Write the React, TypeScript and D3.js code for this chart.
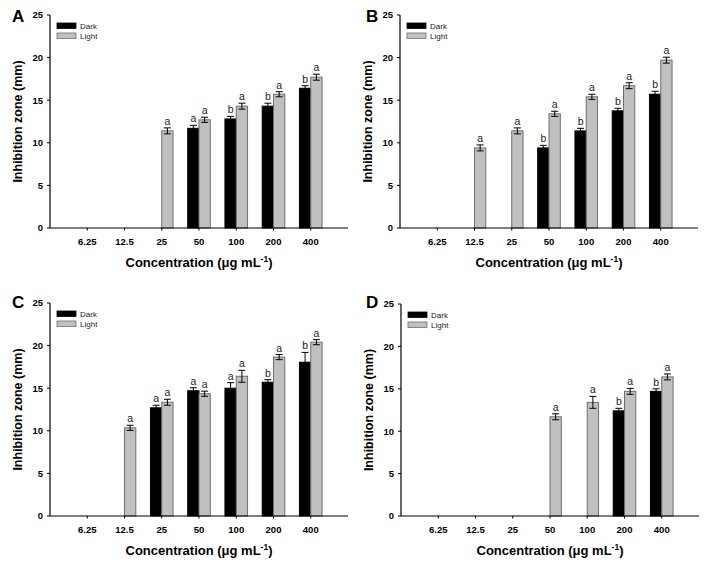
import React from "react";
import * as d3 from "d3";

const categories = ["6.25", "12.5", "25", "50", "100", "200", "400"];
const yTicks = [0, 5, 10, 15, 20, 25];

// Panel A
const aDark = [null, null, null, 11.7, 12.8, 14.3, 16.4];
const aDarkErr = [0, 0, 0, 0.35, 0.3, 0.35, 0.3];
const aDarkLbl = ["", "", "", "a", "b", "b", "b"];
const aLight = [null, null, 11.4, 12.7, 14.3, 15.7, 17.7];
const aLightErr = [0, 0, 0.35, 0.3, 0.35, 0.3, 0.35];
const aLightLbl = ["", "", "a", "a", "a", "a", "a"];

// Panel B
const bDark = [null, null, null, 9.4, 11.4, 13.75, 15.7];
const bDarkErr = [0, 0, 0, 0.3, 0.3, 0.3, 0.35];
const bDarkLbl = ["", "", "", "b", "b", "b", "b"];
const bLight = [null, 9.4, 11.4, 13.4, 15.4, 16.7, 19.7];
const bLightErr = [0, 0.35, 0.35, 0.3, 0.3, 0.35, 0.35];
const bLightLbl = ["", "a", "a", "a", "a", "a", "a"];

// Panel C
const cDark = [null, null, 12.7, 14.7, 15.0, 15.7, 18.05];
const cDarkErr = [0, 0, 0.3, 0.35, 0.65, 0.3, 1.15];
const cDarkLbl = ["", "", "a", "a", "a", "b", "b"];
const cLight = [null, 10.35, 13.35, 14.35, 16.4, 18.65, 20.4];
const cLightErr = [0, 0.3, 0.35, 0.3, 0.7, 0.3, 0.3];
const cLightLbl = ["", "a", "a", "a", "a", "a", "a"];

// Panel D
const dDark = [null, null, null, null, null, 12.4, 14.7];
const dDarkErr = [0, 0, 0, 0, 0, 0.3, 0.3];
const dDarkLbl = ["", "", "", "", "", "b", "b"];
const dLight = [null, null, null, 11.7, 13.4, 14.7, 16.4];
const dLightErr = [0, 0, 0, 0.35, 0.7, 0.35, 0.35];
const dLightLbl = ["", "", "", "a", "a", "a", "a"];

const FONT = "'Liberation Sans', Arial, Helvetica, sans-serif";

type PanelProps = {
  letter: string;
  lx: number;
  ly: number;
  x0: number;
  x1: number;
  yTop: number;
  yBottom: number;
  dark: (number | null)[];
  darkErr: number[];
  darkLbl: string[];
  light: (number | null)[];
  lightErr: number[];
  lightLbl: string[];
};

function Panel(p: PanelProps) {
  const x = d3.scalePoint<string>().domain(categories).range([p.x0, p.x1]).padding(1);
  const y = d3.scaleLinear().domain([0, 25]).range([p.yBottom, p.yTop]);
  const bw = 11.3;
  const cap = 3.5;

  const renderSeries = (
    vals: (number | null)[],
    errs: number[],
    lbls: string[],
    dark: boolean
  ) =>
    vals.map((v, i) => {
      if (v == null) return null;
      const cx = x(categories[i]) as number;
      const bx = dark ? cx - bw : cx;
      const mid = bx + bw / 2;
      const top = y(v);
      const eTop = y(v + errs[i]);
      const eBot = y(v - errs[i]);
      return (
        <g key={(dark ? "d" : "l") + i}>
          <rect
            x={bx}
            y={top}
            width={bw}
            height={p.yBottom - top}
            fill={dark ? "#000" : "#c0c0c0"}
            stroke={dark ? "#000" : "#6e6e6e"}
            strokeWidth={1}
          />
          <line x1={mid} x2={mid} y1={eTop} y2={eBot} stroke="#000" strokeWidth={1} />
          <line x1={mid - cap} x2={mid + cap} y1={eTop} y2={eTop} stroke="#000" strokeWidth={1} />
          <line x1={mid - cap} x2={mid + cap} y1={eBot} y2={eBot} stroke="#000" strokeWidth={1} />
          <text
            x={mid}
            y={eTop - 3}
            textAnchor="middle"
            fontSize={10.5}
            fill="#222"
            fontFamily={FONT}
          >
            {lbls[i]}
          </text>
        </g>
      );
    });

  const midX = (p.x0 + p.x1) / 2;
  const midY = (p.yTop + p.yBottom) / 2;

  return (
    <g>
      <text x={p.lx} y={p.ly} fontSize={17} fontWeight="bold" fontFamily={FONT}>
        {p.letter}
      </text>
      {/* y axis */}
      <line x1={p.x0} x2={p.x0} y1={p.yTop} y2={p.yBottom} stroke="#000" strokeWidth={1.2} />
      {yTicks.map((t) => (
        <g key={t}>
          <line x1={p.x0 - 3} x2={p.x0} y1={y(t)} y2={y(t)} stroke="#000" strokeWidth={1} />
          <text
            x={p.x0 - 7}
            y={y(t)}
            dy="0.35em"
            textAnchor="end"
            fontSize={9.5}
            fontWeight="bold"
            fontFamily={FONT}
          >
            {t}
          </text>
        </g>
      ))}
      {/* bars */}
      {renderSeries(p.dark, p.darkErr, p.darkLbl, true)}
      {renderSeries(p.light, p.lightErr, p.lightLbl, false)}
      {/* x axis */}
      <line x1={p.x0} x2={p.x1} y1={p.yBottom} y2={p.yBottom} stroke="#000" strokeWidth={1.2} />
      {categories.map((c) => (
        <g key={c}>
          <line
            x1={x(c) as number}
            x2={x(c) as number}
            y1={p.yBottom}
            y2={p.yBottom + 2.5}
            stroke="#000"
            strokeWidth={1}
          />
          <text
            x={x(c) as number}
            y={p.yBottom + 16.5}
            textAnchor="middle"
            fontSize={9.5}
            fontWeight="bold"
            fontFamily={FONT}
          >
            {c}
          </text>
        </g>
      ))}
      <text
        x={midX}
        y={p.yBottom + 38.5}
        textAnchor="middle"
        fontSize={13}
        fontWeight="bold"
        fontFamily={FONT}
      >
        Concentration (μg mL
        <tspan dy={-5} fontSize={8.5}>
          -1
        </tspan>
        <tspan dy={5}>)</tspan>
      </text>
      <text
        transform={`translate(${p.x0 - 32},${midY}) rotate(-90)`}
        textAnchor="middle"
        dy="0.35em"
        fontSize={12.5}
        fontWeight="bold"
        fontFamily={FONT}
      >
        Inhibition zone (mm)
      </text>
      {/* legend */}
      <rect x={p.x0 + 7} y={p.yTop + 8} width={19} height={5.5} fill="#000" stroke="#000" strokeWidth={0.8} />
      <text x={p.x0 + 30} y={p.yTop + 10.8} dy="0.35em" fontSize={8} fontFamily={FONT} fill="#222">
        Dark
      </text>
      <rect x={p.x0 + 7} y={p.yTop + 18} width={19} height={5.5} fill="#c0c0c0" stroke="#6e6e6e" strokeWidth={0.8} />
      <text x={p.x0 + 30} y={p.yTop + 20.8} dy="0.35em" fontSize={8} fontFamily={FONT} fill="#222">
        Light
      </text>
    </g>
  );
}

export default function App() {
  return (
    <svg
      width={708}
      height={563}
      style={{ position: "absolute", left: 0, top: 0, background: "#fff" }}
    >
      <rect x={0} y={0} width={708} height={563} fill="#fff" />
      <Panel
        letter="A" lx={12} ly={22}
        x0={50} x1={348} yTop={15} yBottom={228}
        dark={aDark} darkErr={aDarkErr} darkLbl={aDarkLbl}
        light={aLight} lightErr={aLightErr} lightLbl={aLightLbl}
      />
      <Panel
        letter="B" lx={366} ly={22}
        x0={400} x1={698} yTop={15} yBottom={228}
        dark={bDark} darkErr={bDarkErr} darkLbl={bDarkLbl}
        light={bLight} lightErr={bLightErr} lightLbl={bLightLbl}
      />
      <Panel
        letter="C" lx={12} ly={308}
        x0={50} x1={348} yTop={303} yBottom={516}
        dark={cDark} darkErr={cDarkErr} darkLbl={cDarkLbl}
        light={cLight} lightErr={cLightErr} lightLbl={cLightLbl}
      />
      <Panel
        letter="D" lx={366} ly={308}
        x0={401} x1={699} yTop={304} yBottom={516}
        dark={dDark} darkErr={dDarkErr} darkLbl={dDarkLbl}
        light={dLight} lightErr={dLightErr} lightLbl={dLightLbl}
      />
    </svg>
  );
}
